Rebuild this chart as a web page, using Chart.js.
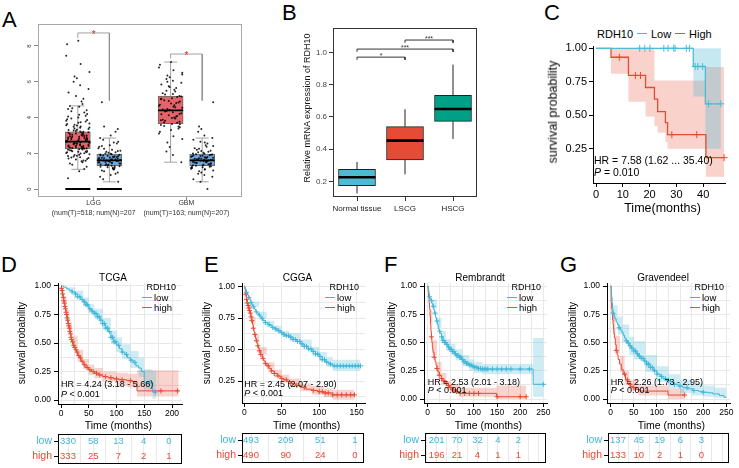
<!DOCTYPE html>
<html>
<head>
<meta charset="utf-8">
<title>RDH10 expression and survival</title>
<script src="https://cdn.jsdelivr.net/npm/chart.js@4.4.1/dist/chart.umd.min.js"></script>
<style>
  html, body { margin: 0; padding: 0; background: #fff; }
  #root { position: relative; width: 739px; height: 468px; overflow: hidden; background: #fff;
          font-family: "Liberation Sans", Arial, Helvetica, sans-serif; }
  #root canvas { position: absolute; }
  .t { position: absolute; white-space: nowrap; line-height: 1; color: #000; }
  .ln { position: absolute; height: 0; }
</style>
</head>
<body>
<div id="root"></div>
<script>
// ===================== DATA =====================
// ---- Panel A : GEPIA expression (tumour vs normal) ----
const aGroups = ['LGG', 'GBM'];
const aGroupNotes = ['(num(T)=518; num(N)=207', '(num(T)=163; num(N)=207)'];
const aYTicks = [0, 2, 4, 6, 8];
// [whiskerLow, Q1, median, Q3, whiskerHigh]
const aTumorStats = [[1.1, 2.25, 2.65, 3.2, 4.65], [1.5, 3.65, 4.4, 5.2, 7.1]];
const aNormalStats = [[0.4, 1.3, 1.6, 1.95, 2.85], [0.4, 1.3, 1.6, 1.95, 2.85]];
const aLggTumor = [0.6, 1.0, 1.12, 1.25, 1.35, 1.42, 1.5, 1.55, 1.6, 1.65, 1.7, 1.74, 1.78, 1.82, 1.86, 1.9, 1.94, 1.98,
  2.02, 2.05, 2.08, 2.1, 2.13, 2.16, 2.19, 2.22, 2.25, 2.27, 2.3, 2.32, 2.35, 2.37, 2.4, 2.42, 2.44, 2.47, 2.5, 2.52,
  2.54, 2.57, 2.6, 2.62, 2.64, 2.66, 2.69, 2.72, 2.75, 2.78, 2.8, 2.83, 2.86, 2.89, 2.92, 2.95, 2.98, 3.02, 3.06, 3.1,
  3.14, 3.18, 3.22, 3.27, 3.32, 3.38, 3.44, 3.5, 3.56, 3.63, 3.7, 3.78, 3.86, 3.95, 4.05, 4.15, 4.28, 4.4, 4.52, 4.65,
  4.75, 4.9, 5.05, 5.2, 5.4, 5.6, 5.8, 6.0, 6.2, 6.3, 6.55, 7.0, 7.45, 8.1, 8.3,
  1.58, 1.68, 1.76, 1.84, 1.92, 2.0, 2.06, 2.11, 2.17, 2.21, 2.26, 2.29, 2.33, 2.38, 2.41, 2.45, 2.49, 2.53, 2.56,
  2.59, 2.63, 2.67, 2.7, 2.74, 2.77, 2.81, 2.85, 2.88, 2.93, 2.97, 3.0, 3.04, 3.08, 3.12, 3.16, 3.2, 3.25, 3.3, 3.36,
  3.42, 3.48, 3.55, 3.6, 3.67, 3.74, 3.82, 3.9, 4.0, 4.1, 4.2, 4.35, 4.48, 4.6];
const aGbmTumor = [1.5, 1.9, 2.1, 2.35, 2.6, 2.8, 2.95, 3.1, 3.2, 3.3, 3.38, 3.45, 3.52, 3.58, 3.64, 3.7, 3.76, 3.82,
  3.88, 3.94, 4.0, 4.06, 4.12, 4.18, 4.24, 4.3, 4.36, 4.42, 4.48, 4.54, 4.6, 4.66, 4.72, 4.78, 4.84, 4.9, 4.96, 5.02,
  5.08, 5.14, 5.2, 5.28, 5.36, 5.45, 5.55, 5.65, 5.75, 5.85, 5.95, 6.05, 6.15, 6.25, 6.35, 6.5, 6.65, 6.8, 6.95, 7.1,
  3.5, 3.62, 3.72, 3.85, 3.97, 4.08, 4.2, 4.33, 4.45, 4.57, 4.69, 4.81, 4.93, 5.05, 5.18, 5.32, 5.5, 5.7, 6.0, 6.4];
const aNormal = [0, 0.4, 0.55, 0.68, 0.78, 0.86, 0.93, 0.99, 1.04, 1.09, 1.13, 1.17, 1.21, 1.24, 1.27, 1.3, 1.33, 1.36,
  1.39, 1.42, 1.45, 1.48, 1.5, 1.53, 1.56, 1.58, 1.6, 1.62, 1.65, 1.67, 1.7, 1.72, 1.75, 1.77, 1.8, 1.83, 1.86, 1.89,
  1.92, 1.95, 1.99, 2.03, 2.08, 2.14, 2.2, 2.28, 2.36, 2.45, 2.55, 2.65, 2.75, 2.85, 3.0, 3.2, 3.35, 3.5, 4.85,
  1.1, 1.19, 1.26, 1.31, 1.37, 1.43, 1.47, 1.51, 1.55, 1.59, 1.63, 1.66, 1.69, 1.73, 1.76, 1.79, 1.84, 1.88, 1.93,
  1.97, 2.05, 2.12, 2.25, 2.4, 2.6];
const aZeroBand = [true, false];          // many zero-expression samples (LGG pair)
const aSignif = ['*', '*'];
const aJitter = [-0.21, 0.08, -0.02, 0.17, -0.12, 0.23, -0.25, 0.03, 0.12, -0.07, 0.2, -0.17, 0.05, -0.23, 0.14,
  -0.04, 0.25, -0.14, 0.1, -0.09, 0.01, 0.19, -0.2, 0.06];

// ---- Panel B : qPCR ----
const bCategories = ['Normal tissue', 'LSCG', 'HSCG'];
const bYTicks = [0.2, 0.4, 0.6, 0.8, 1.0];
const bYLabels = ['0.2', '0.4', '0.6', '0.8', '1.0'];
const bStats = [[0.125, 0.173, 0.225, 0.274, 0.32], [0.243, 0.332, 0.452, 0.539, 0.647], [0.462, 0.572, 0.648, 0.733, 0.924]];
const bComparisons = [[1, 2, 0.97, '*'], [1, 3, 1.02, '***'], [2, 3, 1.076, '***']];

// ---- Panel C : KM (own cohort) ----
const cTimeTicks = [0, 10, 20, 30, 40];
const cSurvTicks = [0.25, 0.5, 0.75, 1.0];
const cSurvLabels = ['0.25', '0.50', '0.75', '1.00'];
const cLow = [[0, 1], [36.3, 0.864], [40.8, 0.585], [46.6, 0.585]];
const cHigh = [[0, 1], [5.6, 0.933], [12.1, 0.797], [18.5, 0.707], [21.8, 0.62], [23, 0.527], [25.9, 0.445], [26.7, 0.355], [41, 0.183], [47.8, 0.183]];
const cLowCI = [[0, 1, 1], [36.3, 0.64, 1], [40.8, 0.25, 1], [46.6, 0.25, 1]];
const cHighCI = [[0, 1, 1], [5.6, 0.81, 1], [12.1, 0.6, 1], [18.5, 0.49, 1], [21.8, 0.42, 0.76], [23, 0.37, 0.76], [25.9, 0.3, 0.76], [26.7, 0.25, 0.76], [41, 0.04, 0.86], [47.8, 0.04, 0.86]];
const cLowCensor = [16.3, 18.2, 20.1, 25.3, 26.9, 29, 29.5, 33.7, 34.9, 37, 38, 39.8, 42, 46.6];
const cHighCensor = [8.7, 14.7, 16.6, 28.3, 37.6, 47.8];

// ---- Panel D : TCGA ----
const dTimeTicks = [0, 50, 100, 150, 200];
const dSurvTicks = [0, 0.25, 0.5, 0.75, 1.0];
const dSurvLabels = ['0.00', '0.25', '0.50', '0.75', '1.00'];
const dLow = [[0, 1], [5, 0.99], [10, 0.975], [15, 0.962], [20, 0.948], [25, 0.93], [30, 0.905], [35, 0.882], [40, 0.86], [45, 0.835], [50, 0.8], [55, 0.78], [60, 0.76], [65, 0.73], [70, 0.7], [75, 0.67], [80, 0.63], [85, 0.6], [90, 0.55], [95, 0.51], [100, 0.48], [105, 0.45], [110, 0.42], [115, 0.4], [120, 0.37], [125, 0.35], [130, 0.33], [135, 0.3], [140, 0.28], [145, 0.25], [150, 0.15], [165, 0.07], [172, 0.07]];
const dHigh = [[0, 1], [1, 0.98], [2, 0.96], [3, 0.93], [4, 0.9], [5, 0.87], [6, 0.85], [7, 0.82], [8, 0.8], [9, 0.77], [10, 0.75], [11, 0.72], [12, 0.7], [13, 0.67], [14, 0.65], [15, 0.63], [16, 0.6], [17, 0.58], [18, 0.55], [19, 0.53], [20, 0.51], [22, 0.48], [24, 0.46], [26, 0.44], [28, 0.42], [30, 0.39], [33, 0.37], [36, 0.34], [40, 0.31], [45, 0.285], [50, 0.265], [55, 0.25], [60, 0.235], [67, 0.22], [75, 0.205], [85, 0.195], [95, 0.185], [105, 0.178], [118, 0.17], [128, 0.16], [137, 0.08], [212, 0.08]];
const dLowCI = [[0, 1, 1], [10, 0.96, 0.99], [25, 0.9, 0.96], [40, 0.82, 0.9], [50, 0.76, 0.84], [60, 0.71, 0.8], [75, 0.62, 0.72], [90, 0.49, 0.61], [100, 0.42, 0.55], [110, 0.36, 0.49], [125, 0.28, 0.43], [140, 0.2, 0.37], [150, 0.09, 0.27], [165, 0.01, 0.25], [172, 0.01, 0.25]];
const dHighCI = [[0, 1, 1], [5, 0.83, 0.91], [10, 0.7, 0.79], [15, 0.58, 0.68], [20, 0.46, 0.56], [30, 0.34, 0.44], [40, 0.27, 0.36], [50, 0.22, 0.31], [60, 0.19, 0.28], [75, 0.16, 0.25], [100, 0.13, 0.24], [120, 0.11, 0.23], [137, 0.03, 0.26], [212, 0.03, 0.26]];
const dLowCensor = [20, 26, 30, 34, 38, 42, 45, 48, 52, 56, 60, 63, 66, 69, 72, 75, 78, 81, 84, 87, 90, 93, 96, 99, 104, 110, 118, 126, 133, 160, 170];
const dHighCensor = [1, 2, 3, 4, 5, 6, 7, 8, 9, 10, 11, 12, 13, 14, 15, 16, 17, 18, 19, 21, 23, 25, 27, 29, 32, 35, 38, 42, 47, 52, 58, 64, 70, 80, 90, 100, 110, 125, 180, 210];
const dRiskTimes = [0, 50, 100, 150, 200];
const dRiskLow = [330, 58, 13, 4, 0];
const dRiskHigh = [333, 25, 7, 2, 1];

// ---- Panel E : CGGA ----
const eTimeTicks = [0, 50, 100, 150];
const eSurvTicks = [0.25, 0.5, 0.75, 1.0];
const eSurvLabels = ['0.25', '0.50', '0.75', '1.00'];
const eLow = [[0, 1], [1, 0.985], [2, 0.97], [3, 0.955], [4, 0.94], [5, 0.93], [6, 0.915], [7, 0.905], [8, 0.89], [9, 0.875], [10, 0.86], [11, 0.85], [12, 0.84], [13, 0.83], [14, 0.82], [15, 0.81], [16, 0.8], [17, 0.79], [19, 0.775], [21, 0.76], [23, 0.745], [25, 0.73], [28, 0.715], [31, 0.7], [34, 0.69], [37, 0.675], [40, 0.665], [44, 0.65], [48, 0.635], [52, 0.62], [56, 0.61], [60, 0.6], [65, 0.58], [70, 0.565], [75, 0.545], [80, 0.525], [85, 0.505], [90, 0.485], [95, 0.465], [100, 0.445], [104, 0.42], [108, 0.4], [113, 0.385], [118, 0.37], [155, 0.37]];
const eHigh = [[0, 1], [1, 0.98], [2, 0.94], [3, 0.9], [4, 0.87], [5, 0.85], [6, 0.83], [7, 0.81], [8, 0.79], [9, 0.76], [10, 0.73], [11, 0.7], [12, 0.67], [13, 0.64], [14, 0.62], [15, 0.59], [16, 0.57], [17, 0.55], [18, 0.53], [19, 0.51], [20, 0.49], [22, 0.46], [24, 0.43], [26, 0.41], [28, 0.39], [30, 0.37], [33, 0.35], [36, 0.33], [40, 0.31], [44, 0.29], [48, 0.27], [52, 0.26], [57, 0.245], [62, 0.23], [68, 0.215], [75, 0.2], [82, 0.185], [90, 0.175], [98, 0.165], [106, 0.155], [118, 0.14], [147, 0.14]];
const eLowCI = [[0, 1, 1], [10, 0.84, 0.88], [20, 0.75, 0.8], [30, 0.68, 0.73], [40, 0.64, 0.69], [50, 0.6, 0.65], [60, 0.57, 0.63], [75, 0.52, 0.58], [90, 0.45, 0.52], [100, 0.41, 0.48], [110, 0.36, 0.44], [118, 0.33, 0.42], [155, 0.33, 0.42]];
const eHighCI = [[0, 1, 1], [5, 0.82, 0.88], [10, 0.7, 0.76], [15, 0.56, 0.62], [20, 0.46, 0.52], [30, 0.34, 0.4], [40, 0.28, 0.34], [50, 0.24, 0.3], [60, 0.2, 0.27], [75, 0.17, 0.23], [90, 0.14, 0.21], [106, 0.12, 0.19], [118, 0.1, 0.18], [147, 0.1, 0.18]];
const eLowCensor = [3, 6, 9, 12, 16, 20, 24, 28, 33, 38, 42, 46, 50, 53, 56, 59, 62, 65, 68, 71, 74, 77, 80, 83, 86, 89, 92, 95, 98, 101, 104, 107, 110, 115, 120, 124, 128, 132, 136, 140, 144, 148, 152, 155];
const eHighCensor = [2, 3, 4, 5, 6, 7, 8, 9, 10, 12, 14, 16, 18, 20, 22, 25, 28, 32, 36, 40, 45, 50, 56, 62, 70, 80, 92, 100, 104, 108, 112, 118, 124, 130, 136, 142, 147];
const eRiskTimes = [0, 50, 100, 150];
const eRiskLow = [493, 209, 51, 1];
const eRiskHigh = [490, 90, 24, 0];

// ---- Panel F : Rembrandt ----
const fTimeTicks = [0, 50, 100, 150, 200, 250];
const fSurvTicks = [0, 0.25, 0.5, 0.75, 1.0];
const fSurvLabels = ['0.00', '0.25', '0.50', '0.75', '1.00'];
const fLow = [[0, 1], [1, 0.98], [2, 0.955], [3, 0.93], [4, 0.905], [5, 0.89], [7, 0.87], [9, 0.845], [11, 0.82], [13, 0.79], [15, 0.76], [17, 0.72], [19, 0.69], [21, 0.66], [23, 0.62], [25, 0.6], [27, 0.58], [30, 0.55], [33, 0.52], [36, 0.5], [40, 0.48], [44, 0.46], [48, 0.44], [53, 0.42], [58, 0.4], [63, 0.385], [68, 0.37], [73, 0.35], [78, 0.33], [84, 0.315], [90, 0.3], [96, 0.29], [102, 0.28], [110, 0.27], [118, 0.265], [228, 0.13], [250, 0.13]];
const fHigh = [[0, 1], [1, 0.95], [2, 0.9], [3, 0.85], [4, 0.8], [5, 0.73], [6, 0.66], [7, 0.6], [8, 0.55], [9, 0.5], [10, 0.46], [11, 0.43], [12, 0.41], [14, 0.37], [16, 0.33], [18, 0.3], [20, 0.27], [22, 0.24], [25, 0.21], [29, 0.18], [33, 0.16], [37, 0.14], [41, 0.12], [47, 0.1], [55, 0.08], [62, 0.065], [69, 0.05], [149, 0.02], [213, 0.02]];
const fLowCI = [[0, 1, 1], [10, 0.8, 0.88], [20, 0.63, 0.72], [30, 0.5, 0.6], [40, 0.43, 0.53], [50, 0.39, 0.49], [60, 0.34, 0.44], [75, 0.29, 0.39], [90, 0.25, 0.35], [100, 0.23, 0.33], [118, 0.22, 0.31], [228, 0.02, 0.54], [250, 0.02, 0.54]];
const fHighCI = [[0, 1, 1], [5, 0.67, 0.79], [10, 0.39, 0.52], [20, 0.21, 0.33], [30, 0.13, 0.23], [40, 0.08, 0.16], [50, 0.05, 0.13], [70, 0.02, 0.1], [149, 0, 0.12], [213, 0, 0.12]];
const fLowCensor = [4, 8, 12, 16, 20, 26, 30, 33, 36, 39, 42, 45, 48, 51, 54, 57, 60, 63, 66, 69, 72, 75, 78, 81, 84, 87, 90, 94, 98, 102, 106, 110, 114, 118, 122, 126, 130, 140, 150, 160, 170, 180, 200, 220, 250];
const fHighCensor = [8, 14, 20, 25, 30, 35, 40, 45, 50, 55, 62, 70, 80, 90, 100, 110, 150, 200, 213];
const fRiskTimes = [0, 50, 100, 150, 200];
const fRiskLow = [201, 70, 32, 4, 2];
const fRiskHigh = [196, 21, 4, 1, 1];

// ---- Panel G : Gravendeel ----
const gTimeTicks = [0, 50, 100, 150, 200, 250];
const gSurvTicks = [0, 0.25, 0.5, 0.75, 1.0];
const gSurvLabels = ['0.00', '0.25', '0.50', '0.75', '1.00'];
const gLow = [[0, 1], [1, 0.95], [2, 0.9], [3, 0.85], [4, 0.8], [5, 0.76], [7, 0.73], [9, 0.71], [12, 0.68], [15, 0.655], [18, 0.63], [21, 0.61], [24, 0.59], [27, 0.565], [30, 0.54], [33, 0.515], [36, 0.495], [40, 0.47], [45, 0.45], [50, 0.425], [55, 0.4], [60, 0.38], [66, 0.36], [72, 0.335], [78, 0.31], [85, 0.28], [92, 0.25], [100, 0.22], [107, 0.2], [113, 0.18], [120, 0.165], [128, 0.15], [136, 0.13], [146, 0.115], [156, 0.1], [166, 0.09], [178, 0.075], [190, 0.068], [200, 0.06], [210, 0.055], [221, 0.045], [235, 0.03], [245, 0.015], [250, 0.015]];
const gHigh = [[0, 1], [1, 0.85], [2, 0.8], [3, 0.75], [4, 0.7], [5, 0.66], [6, 0.62], [7, 0.58], [8, 0.54], [10, 0.48], [12, 0.43], [14, 0.39], [16, 0.35], [19, 0.31], [23, 0.26], [27, 0.22], [32, 0.17], [37, 0.13], [43, 0.11], [48, 0.1], [55, 0.085], [63, 0.07], [124, 0.035], [160, 0.035]];
const gLowCI = [[0, 1, 1], [5, 0.69, 0.83], [15, 0.57, 0.73], [25, 0.5, 0.66], [40, 0.39, 0.55], [50, 0.35, 0.51], [75, 0.24, 0.39], [100, 0.15, 0.29], [125, 0.09, 0.22], [150, 0.05, 0.17], [175, 0.03, 0.14], [200, 0.02, 0.12], [225, 0.01, 0.1], [250, 0, 0.08]];
const gHighCI = [[0, 1, 1], [5, 0.57, 0.76], [10, 0.4, 0.56], [20, 0.24, 0.38], [30, 0.13, 0.25], [40, 0.07, 0.17], [60, 0.03, 0.12], [124, 0, 0.09], [160, 0, 0.09]];
const gLowCensor = [5, 18, 34, 38, 42, 46, 50, 54, 58, 62, 66, 70, 74, 78, 82, 86, 90, 95, 100, 110, 118, 125, 138, 150, 165, 180, 200];
const gHighCensor = [12, 30, 36, 42, 50, 160];
const gRiskTimes = [0, 50, 100, 150, 200];
const gRiskLow = [137, 45, 19, 6, 3];
const gRiskHigh = [133, 10, 2, 1, 0];

// ===================== RENDERING =====================
const FONT = '"Liberation Sans", Arial, Helvetica, sans-serif';
Chart.defaults.font.family = FONT;
Chart.defaults.color = '#000';
Chart.defaults.animation = false;

const COL_LOW = '#3FB6DA', COL_HIGH = '#E64B35';
const FILL_LOW = 'rgba(77,187,213,0.28)', FILL_HIGH = 'rgba(230,75,53,0.24)';
const root = document.getElementById('root');

function makeCanvas(left, top, w, h) {
  const c = document.createElement('canvas');
  c.width = w; c.height = h;
  c.style.left = left + 'px'; c.style.top = top + 'px';
  c.style.width = w + 'px'; c.style.height = h + 'px';
  root.appendChild(c);
  return c;
}
function text(html, x, y, o) {
  o = o || {};
  const el = document.createElement('div');
  el.className = 't';
  el.innerHTML = html;
  el.style.fontSize = (o.size || 10) + 'px';
  if (o.color) el.style.color = o.color;
  el.style.left = x + 'px'; el.style.top = y + 'px';
  const tx = o.align === 'left' ? '0' : o.align === 'right' ? '-100%' : '-50%';
  el.style.transform = 'translate(' + tx + ',-50%)' + (o.rot ? ' rotate(' + o.rot + 'deg)' : '');
  root.appendChild(el);
}
function hline(x1, x2, y, color, w) {
  const el = document.createElement('div');
  el.className = 'ln';
  el.style.left = x1 + 'px'; el.style.width = (x2 - x1) + 'px';
  el.style.top = (y - w / 2) + 'px'; el.style.borderTop = w + 'px solid ' + color;
  root.appendChild(el);
}
function toRange(a, b, pLo, pHi) {           // a,b = [pixel, value]
  const k = (b[0] - a[0]) / (b[1] - a[1]);
  return [a[1] + (pLo - a[0]) / k, a[1] + (pHi - a[0]) / k];
}
function fix(dim, size) {
  return s => { s[dim] = size; s.paddingLeft = 0; s.paddingRight = 0; s.paddingTop = 0; s.paddingBottom = 0; };
}
function labelOf(ticks, labels, v) {
  const i = ticks.findIndex(m => Math.abs(m - v) < 1e-6);
  return i < 0 ? '' : labels[i];
}
function withMinor(m, lo, hi) {
  const step = m[1] - m[0], out = [];
  for (let v = m[0] - step / 2; v <= m[m.length - 1] + step / 2 + 1e-9; v += step / 2) {
    if (v >= lo - 1e-9 && v <= hi + 1e-9) out.push(Math.round(v * 1e6) / 1e6);
  }
  return out;
}
function stepValue(steps, t) {
  let v = steps[0][1];
  for (const [x, y] of steps) { if (x <= t) v = y; else break; }
  return v;
}
function segs(list) {
  const out = [];
  list.forEach((s, i) => {
    if (i) out.push({ x: s[0][0], y: null });
    s.forEach(([x, y]) => out.push({ x, y }));
  });
  return out;
}
const basePlugins = { legend: { display: false }, tooltip: { enabled: false }, title: { display: false } };

// ---------- Panel A ----------
(function () {
  const P = { L: 38, R: 242, T: 24, B: 197 };
  const yw = 14, xh = 22, pad = 2;
  const [xMin, xMax] = toRange([93.6, 1], [186.4, 3], P.L, P.R);
  const [yMin, yMax] = toRange([189, 0], [46, 8], P.B, P.T);
  const pairX = [1, 3], off = 0.34, boxHalf = 0.27, capHalf = 0.14;
  const cv = makeCanvas(P.L - yw, P.T - pad, P.R - P.L + yw + pad, P.B - P.T + pad + xh);
  const boxes = [], colors = [], whisk = [], meds = [], zeros = [], pts = [];
  const tumors = [aLggTumor, aGbmTumor];
  pairX.forEach((cx, g) => {
    [[aTumorStats[g], '#E3646A', tumors[g]], [aNormalStats[g], '#6EA8DC', aNormal]].forEach(([s, col, vals], k) => {
      const x = cx + (k === 0 ? -off : off);
      boxes.push({ x, y: [s[1], s[3]] }); colors.push(col);
      whisk.push([[x, s[0]], [x, s[1]]], [[x, s[3]], [x, s[4]]], [[x - capHalf, s[0]], [x + capHalf, s[0]]], [[x - capHalf, s[4]], [x + capHalf, s[4]]]);
      meds.push([[x - boxHalf, s[2]], [x + boxHalf, s[2]]]);
      if (aZeroBand[g]) zeros.push([[x - boxHalf, 0], [x + boxHalf, 0]]);
      const w = k === 0 ? 1.0 : 0.95;
      vals.forEach((v, i) => pts.push({ x: x + aJitter[(i * 7 + g * 5 + k * 3) % aJitter.length] * w, y: v }));
    });
  });
  const brackets = [
    [[pairX[0] - off, 8.45], [pairX[0] - off, 8.73], [pairX[0] + off, 8.73], [pairX[0] + off, 4.95]],
    [[pairX[1] - off, 7.3], [pairX[1] - off, 7.55], [pairX[1] + off, 7.55], [pairX[1] + off, 4.95]]
  ];
  const stars = [[pairX[0], 8.73], [pairX[1], 7.55]];
  new Chart(cv, {
    type: 'bar',
    data: { datasets: [
      { type: 'bar', data: boxes, backgroundColor: colors, borderColor: '#6a6a6a', borderWidth: 1, borderSkipped: false, barThickness: 25, order: 6 },
      { type: 'line', data: segs(whisk), borderColor: '#8a8a8a', borderWidth: 0.8, pointRadius: 0, spanGaps: false, order: 5 },
      { type: 'line', data: segs(zeros), borderColor: '#000', borderWidth: 2, pointRadius: 0, spanGaps: false, order: 4 },
      { type: 'line', data: pts, showLine: false, pointRadius: 1, pointBackgroundColor: 'rgba(0,0,0,0.85)', pointBorderWidth: 0, order: 3 },
      { type: 'line', data: segs(meds), borderColor: '#000', borderWidth: 1.8, pointRadius: 0, spanGaps: false, order: 2 },
      { type: 'line', data: segs(brackets), borderColor: '#8a8a8a', borderWidth: 0.8, pointRadius: 0, spanGaps: false, order: 1 }
    ] },
    options: {
      responsive: false, events: [],
      layout: { padding: { top: pad, right: pad, left: 0, bottom: 0 }, autoPadding: false },
      plugins: basePlugins,
      scales: {
        x: { type: 'linear', min: xMin, max: xMax, offset: false,
          afterBuildTicks: s => { s.ticks = pairX.map(v => ({ value: v })); }, afterFit: fix('height', xh),
          ticks: { autoSkip: false, maxRotation: 0, padding: -1, color: '#333', font: { size: 7, lineHeight: 1.3 },
            callback: v => { const i = pairX.indexOf(v); return i < 0 ? '' : [aGroups[i], aGroupNotes[i]]; } },
          grid: { drawOnChartArea: false, offset: false, tickLength: 3, tickColor: '#888' }, border: { display: false } },
        y: { type: 'linear', min: yMin, max: yMax,
          afterBuildTicks: s => { s.ticks = aYTicks.map(v => ({ value: v })); }, afterFit: fix('width', yw),
          ticks: { display: false }, grid: { drawOnChartArea: false, tickLength: 4, tickColor: '#888' }, border: { display: false } }
      }
    },
    plugins: [{
      id: 'aDecor',
      afterDraw(chart) {
        const { ctx, chartArea: a, scales } = chart;
        ctx.save();
        ctx.strokeStyle = '#a8a8a8'; ctx.lineWidth = 1;
        ctx.strokeRect(a.left + 0.5, a.top + 0.5, a.width - 1, a.height - 1);
        ctx.fillStyle = '#333'; ctx.font = '6px ' + FONT; ctx.textAlign = 'center'; ctx.textBaseline = 'middle';
        aYTicks.forEach(v => {
          ctx.save(); ctx.translate(scales.y.left + 5, scales.y.getPixelForValue(v)); ctx.rotate(-Math.PI / 2);
          ctx.fillText(String(v), 0, 0); ctx.restore();
        });
        ctx.fillStyle = '#E8262B'; ctx.font = '10px ' + FONT;
        stars.forEach(([x, y], i) => ctx.fillText(aSignif[i], scales.x.getPixelForValue(x), scales.y.getPixelForValue(y) + 2));
        ctx.restore();
      }
    }]
  });
})();

// ---------- Panel B ----------
(function () {
  const P = { L: 333, R: 477, T: 28, B: 197 };
  const yw = 30, xh = 18, pad = 2;
  const [xMin, xMax] = toRange([357, 1], [453, 3], P.L, P.R);
  const [yMin, yMax] = toRange([181.3, 0.2], [52.3, 1.0], P.B, P.T);
  const xs = bCategories.map((c, i) => i + 1);
  const half = 0.385, arm = 0.017;
  const cv = makeCanvas(P.L - yw, P.T - pad, P.R - P.L + yw + pad, P.B - P.T + pad + xh);
  const whisk = [], meds = [], br = [];
  bStats.forEach((s, i) => {
    const x = xs[i];
    whisk.push([[x, s[0]], [x, s[1]]], [[x, s[3]], [x, s[4]]]);
    meds.push([[x - half, s[2]], [x + half, s[2]]]);
  });
  bComparisons.forEach(([a, b, y]) => br.push([[a, y - arm], [a, y], [b, y], [b, y - arm]]));
  new Chart(cv, {
    type: 'bar',
    data: { datasets: [
      { type: 'bar', data: bStats.map((s, i) => ({ x: xs[i], y: [s[1], s[3]] })), backgroundColor: ['#4DBBD5', '#E64B35', '#00A087'], borderColor: '#222', borderWidth: 1, borderSkipped: false, barThickness: 37, order: 4 },
      { type: 'line', data: segs(whisk), borderColor: '#222', borderWidth: 1, pointRadius: 0, spanGaps: false, order: 3 },
      { type: 'line', data: segs(meds), borderColor: '#000', borderWidth: 2.6, pointRadius: 0, spanGaps: false, order: 2 },
      { type: 'line', data: segs(br), borderColor: '#333', borderWidth: 1, pointRadius: 0, spanGaps: false, order: 1 }
    ] },
    options: {
      responsive: false, events: [],
      layout: { padding: { top: pad, right: pad, left: 0, bottom: 0 }, autoPadding: false },
      plugins: basePlugins,
      scales: {
        x: { type: 'linear', min: xMin, max: xMax, offset: false,
          afterBuildTicks: s => { s.ticks = xs.map(v => ({ value: v })); }, afterFit: fix('height', xh),
          ticks: { autoSkip: false, maxRotation: 0, padding: 4, color: '#222', font: { size: 8, lineHeight: 1 },
            callback: v => bCategories[xs.indexOf(v)] || '' },
          grid: { drawOnChartArea: false, offset: false, tickLength: 4, tickColor: '#333' }, border: { display: false } },
        y: { type: 'linear', min: yMin, max: yMax,
          afterBuildTicks: s => { s.ticks = bYTicks.map(v => ({ value: v })); }, afterFit: fix('width', yw),
          ticks: { padding: 2, color: '#444', font: { size: 8, lineHeight: 1 }, callback: v => labelOf(bYTicks, bYLabels, v) },
          grid: { drawOnChartArea: false, tickLength: 4, tickColor: '#333' }, border: { display: false } }
      }
    },
    plugins: [{
      id: 'bDecor',
      afterDraw(chart) {
        const { ctx, chartArea: a, scales } = chart;
        ctx.save();
        ctx.strokeStyle = '#333'; ctx.lineWidth = 1;
        ctx.strokeRect(a.left + 0.5, a.top + 0.5, a.width - 1, a.height - 1);
        ctx.fillStyle = '#333'; ctx.font = '7px ' + FONT; ctx.textAlign = 'center'; ctx.textBaseline = 'alphabetic';
        bComparisons.forEach(([p, q, y, lab]) => {
          ctx.fillText(lab, scales.x.getPixelForValue((p + q) / 2), scales.y.getPixelForValue(y) + 1);
        });
        ctx.restore();
      }
    }]
  });
})();

// ---------- KM panels ----------
function kmPanel(spec, d, st) {
  const [xMin, xMax] = toRange(spec.x0, spec.x1, spec.L, spec.R);
  const [yMin, yMax] = toRange(spec.y0, spec.y1, spec.B, spec.T);
  const cv = makeCanvas(spec.L - st.yw, spec.T - st.padT, spec.R - spec.L + st.yw + st.padR, spec.B - spec.T + st.padT + st.xh);
  const allX = st.grid ? withMinor(d.xTicks, xMin, xMax) : d.xTicks;
  const allY = st.grid ? withMinor(d.yTicks, yMin, yMax) : d.yTicks;
  const major = (arr, v) => arr.some(m => Math.abs(m - v) < 1e-6);
  const ds = [];
  const band = (ci, fill) => {
    ds.push({ data: ci.map(r => ({ x: r[0], y: r[2] })), stepped: 'before', borderWidth: 0, pointRadius: 0, backgroundColor: fill, fill: '+1', order: 3 });
    ds.push({ data: ci.map(r => ({ x: r[0], y: r[1] })), stepped: 'before', borderWidth: 0, pointRadius: 0, fill: false, order: 3 });
  };
  band(d.lowCI, st.fillLow); band(d.highCI, st.fillHigh);
  [[d.low, st.colLow], [d.high, st.colHigh]].forEach(([s, col]) =>
    ds.push({ data: s.map(([x, y]) => ({ x, y })), stepped: 'before', borderColor: col, borderWidth: st.lw, pointRadius: 0, fill: false, order: 1 }));
  [[d.lowCensor, d.low, st.colLow], [d.highCensor, d.high, st.colHigh]].forEach(([ts, s, col]) =>
    ds.push({ data: ts.map(t => ({ x: t, y: stepValue(s, t) })), showLine: false, pointStyle: 'cross', pointRadius: st.cr, pointBorderColor: col, pointBorderWidth: 1, borderColor: col, order: 0, clip: false }));
  new Chart(cv, {
    type: 'line',
    data: { datasets: ds },
    options: {
      responsive: false, events: [],
      layout: { padding: { top: st.padT, right: st.padR, left: 0, bottom: 0 }, autoPadding: false },
      plugins: basePlugins,
      scales: {
        x: { type: 'linear', min: xMin, max: xMax,
          afterBuildTicks: s => { s.ticks = allX.map(v => ({ value: v })); }, afterFit: fix('height', st.xh),
          ticks: { autoSkip: false, maxRotation: 0, padding: st.xPad, color: '#000', font: { size: st.tick, lineHeight: 1 },
            callback: v => major(d.xTicks, v) ? String(v) : '' },
          grid: { drawOnChartArea: st.grid, color: '#E8E8E8', lineWidth: 1, tickLength: 4,
            tickColor: c => (c.tick && major(d.xTicks, c.tick.value)) ? '#000' : 'rgba(0,0,0,0)' },
          border: { display: true, color: '#000', width: 1 } },
        y: { type: 'linear', min: yMin, max: yMax,
          afterBuildTicks: s => { s.ticks = allY.map(v => ({ value: v })); }, afterFit: fix('width', st.yw),
          ticks: { autoSkip: false, padding: st.yPad, color: '#000', font: { size: st.tick, lineHeight: 1 },
            callback: v => labelOf(d.yTicks, d.yLabels, v) },
          grid: { drawOnChartArea: st.grid, color: '#E8E8E8', lineWidth: 1, tickLength: 4,
            tickColor: c => (c.tick && major(d.yTicks, c.tick.value)) ? '#000' : 'rgba(0,0,0,0)' },
          border: { display: true, color: '#000', width: 1 } }
      }
    }
  });
}

function riskTable(spec, xs, times, lowN, highN) {
  const yw = 30;
  const [xMin, xMax] = toRange(xs.x0, xs.x1, spec.L, spec.R);
  const cv = makeCanvas(spec.L - yw, spec.T, spec.R - spec.L + yw + 1, spec.B - spec.T + 1);
  const rows = ['low', 'high'];
  const grid = withMinor(xs.ticks, xMin, xMax);
  new Chart(cv, {
    type: 'line',
    data: { datasets: [
      { data: times.map(t => ({ x: t, y: rows[0] })), showLine: false, pointRadius: 0 },
      { data: times.map(t => ({ x: t, y: rows[1] })), showLine: false, pointRadius: 0 }
    ] },
    options: {
      responsive: false, events: [],
      layout: { padding: { top: 0, right: 1, left: 0, bottom: 1 }, autoPadding: false },
      plugins: basePlugins,
      scales: {
        x: { type: 'linear', min: xMin, max: xMax,
          afterBuildTicks: s => { s.ticks = grid.map(v => ({ value: v })); }, afterFit: fix('height', 0),
          ticks: { display: false }, grid: { color: '#E8E8E8', drawTicks: false }, border: { display: false } },
        y: { type: 'category', labels: rows, offset: true, afterFit: fix('width', yw),
          ticks: { padding: 2, font: { size: 10.5, lineHeight: 1 }, color: c => c.index === 0 ? COL_LOW : COL_HIGH },
          grid: { drawOnChartArea: false, tickLength: 4, tickColor: '#000' }, border: { display: false } }
      }
    },
    plugins: [{
      id: 'riskNumbers',
      afterDatasetsDraw(chart) {
        const { ctx, chartArea: a } = chart;
        ctx.save();
        ctx.font = '9.5px ' + FONT; ctx.textAlign = 'center'; ctx.textBaseline = 'middle';
        [lowN, highN].forEach((arr, di) => {
          ctx.fillStyle = di ? COL_HIGH : COL_LOW;
          chart.getDatasetMeta(di).data.forEach((pt, i) => ctx.fillText(String(arr[i]), pt.x, pt.y));
        });
        ctx.strokeStyle = '#000'; ctx.lineWidth = 1;
        ctx.strokeRect(a.left + 0.5, a.top + 0.5, a.width - 1, a.height - 1);
        ctx.restore();
      }
    }]
  });
}

// Panel C
kmPanel({ L: 593, R: 725, T: 46, B: 183, x0: [596, 0], x1: [703.2, 40], y0: [148.7, 0.25], y1: [48.3, 1] },
  { low: cLow, high: cHigh, lowCI: cLowCI, highCI: cHighCI, lowCensor: cLowCensor, highCensor: cHighCensor,
    xTicks: cTimeTicks, yTicks: cSurvTicks, yLabels: cSurvLabels },
  { grid: false, yw: 42, xh: 22, padT: 5, padR: 6, tick: 11, xPad: 2, yPad: 2, lw: 1.3, cr: 3.5,
    colLow: '#4DBBD5', colHigh: '#E64B35', fillLow: 'rgba(77,187,213,0.32)', fillHigh: 'rgba(230,75,53,0.25)' });

const kmStyle = { grid: true, yw: 40, xh: 18, padT: 4, padR: 8, tick: 8.5, xPad: 1, yPad: 3, lw: 1, cr: 2.5,
  colLow: COL_LOW, colHigh: COL_HIGH, fillLow: FILL_LOW, fillHigh: FILL_HIGH };

const panels = [
  { spec: { L: 58, R: 182, T: 283, B: 404, x0: [61, 0], x1: [172, 200], y0: [400, 0], y1: [286, 1] },
    table: { L: 58, R: 182, T: 434, B: 464, x0: [68, 0], x1: [169, 200] },
    d: { low: dLow, high: dHigh, lowCI: dLowCI, highCI: dHighCI, lowCensor: dLowCensor, highCensor: dHighCensor,
         xTicks: dTimeTicks, yTicks: dSurvTicks, yLabels: dSurvLabels },
    risk: [dRiskTimes, dRiskLow, dRiskHigh] },
  { spec: { L: 242, R: 365, T: 283, B: 403, x0: [244.3, 0], x1: [356.7, 150], y0: [381, 0.25], y1: [286.7, 1] },
    table: { L: 242, R: 364, T: 433, B: 463, x0: [251, 0], x1: [355, 150] },
    d: { low: eLow, high: eHigh, lowCI: eLowCI, highCI: eHighCI, lowCensor: eLowCensor, highCensor: eHighCensor,
         xTicks: eTimeTicks, yTicks: eSurvTicks, yLabels: eSurvLabels },
    risk: [eRiskTimes, eRiskLow, eRiskHigh] },
  { spec: { L: 424, R: 547, T: 283, B: 403, x0: [427.7, 0], x1: [543.3, 250], y0: [399, 0], y1: [286, 1] },
    table: { L: 425, R: 546, T: 433, B: 463, x0: [436.7, 0], x1: [518.3, 200] },
    d: { low: fLow, high: fHigh, lowCI: fLowCI, highCI: fHighCI, lowCensor: fLowCensor, highCensor: fHighCensor,
         xTicks: fTimeTicks, yTicks: fSurvTicks, yLabels: fSurvLabels },
    risk: [fRiskTimes, fRiskLow, fRiskHigh] },
  { spec: { L: 607, R: 730, T: 283, B: 403, x0: [610.7, 0], x1: [726.3, 250], y0: [399, 0], y1: [286, 1] },
    table: { L: 608, R: 729, T: 433, B: 463, x0: [618, 0], x1: [701.3, 200] },
    d: { low: gLow, high: gHigh, lowCI: gLowCI, highCI: gHighCI, lowCensor: gLowCensor, highCensor: gHighCensor,
         xTicks: gTimeTicks, yTicks: gSurvTicks, yLabels: gSurvLabels },
    risk: [gRiskTimes, gRiskLow, gRiskHigh] }
];
panels.forEach(p => {
  kmPanel(p.spec, p.d, kmStyle);
  riskTable(p.table, { x0: p.table.x0, x1: p.table.x1, ticks: p.d.xTicks }, p.risk[0], p.risk[1], p.risk[2]);
});

// ===================== TEXT OVERLAYS =====================
[['A', 2, 19.5], ['B', 282, 12.8], ['C', 544, 13], ['D', 1, 265], ['E', 204, 265], ['F', 384, 265], ['G', 560, 265]]
  .forEach(([s, x, y]) => text(s, x, y, { size: 22, align: 'left' }));

text('Relative mRNA expression of RDH10', 307, 108, { size: 9, rot: -90, color: '#111' });

// Panel C texts
text('survival probability', 553, 112, { size: 12.5, rot: -90 });
text('Time(months)', 662.5, 208, { size: 12.5 });
text('RDH10', 597, 34, { size: 11, align: 'left' });
hline(637, 647, 34, '#4DBBD5', 1.5);
text('Low', 651, 34, { size: 11, align: 'left' });
hline(675, 685, 34, '#E64B35', 1.5);
text('High', 689, 34, { size: 11, align: 'left' });
text('HR = 7.58 (1.62 ... 35.40)', 594, 160, { size: 10.5, align: 'left' });
text('<i>P</i> = 0.010', 594, 171.7, { size: 10.5, align: 'left' });

// Panels D-G texts
[
  { title: 'TCGA', tx: 113, yt: 22, xt: 118.3, R: 182, x0: 61, hr: 'HR = 4.24 (3.18 - 5.66)', hy: 384, py: 394 },
  { title: 'CGGA', tx: 297.5, yt: 206.7, xt: 306.7, R: 365, x0: 244.3, hr: 'HR = 2.45 (2.07 - 2.90)', hy: 384.3, py: 393.3 },
  { title: 'Rembrandt', tx: 480, yt: 391.7, xt: 488.3, R: 547, x0: 427.7, hr: 'HR = 2.53 (2.01 - 3.18)', hy: 381.7, py: 390 },
  { title: 'Gravendeel', tx: 663, yt: 573, xt: 671.3, R: 730, x0: 610.7, hr: 'HR = 2.26 (1.73 - 2.95)', hy: 381.7, py: 390 }
].forEach(p => {
  text(p.title, p.tx, 277.5, { size: 10 });
  text('survival probability', p.yt, 343, { size: 10, rot: -90 });
  text('Time (months)', p.xt, 425, { size: 10.5 });
  text('RDH10', p.R - 35.5, 287, { size: 9, align: 'left' });
  hline(p.R - 40, p.R - 30, 298, COL_LOW, 1.2);
  text('low', p.R - 28, 298, { size: 9.5, align: 'left' });
  hline(p.R - 40, p.R - 30, 308, COL_HIGH, 1.2);
  text('high', p.R - 28, 308, { size: 9.5, align: 'left' });
  text(p.hr, p.x0, p.hy, { size: 9, align: 'left' });
  text('<i>P</i> &lt; 0.001', p.x0, p.py, { size: 9, align: 'left' });
});
</script>
</body>
</html>
